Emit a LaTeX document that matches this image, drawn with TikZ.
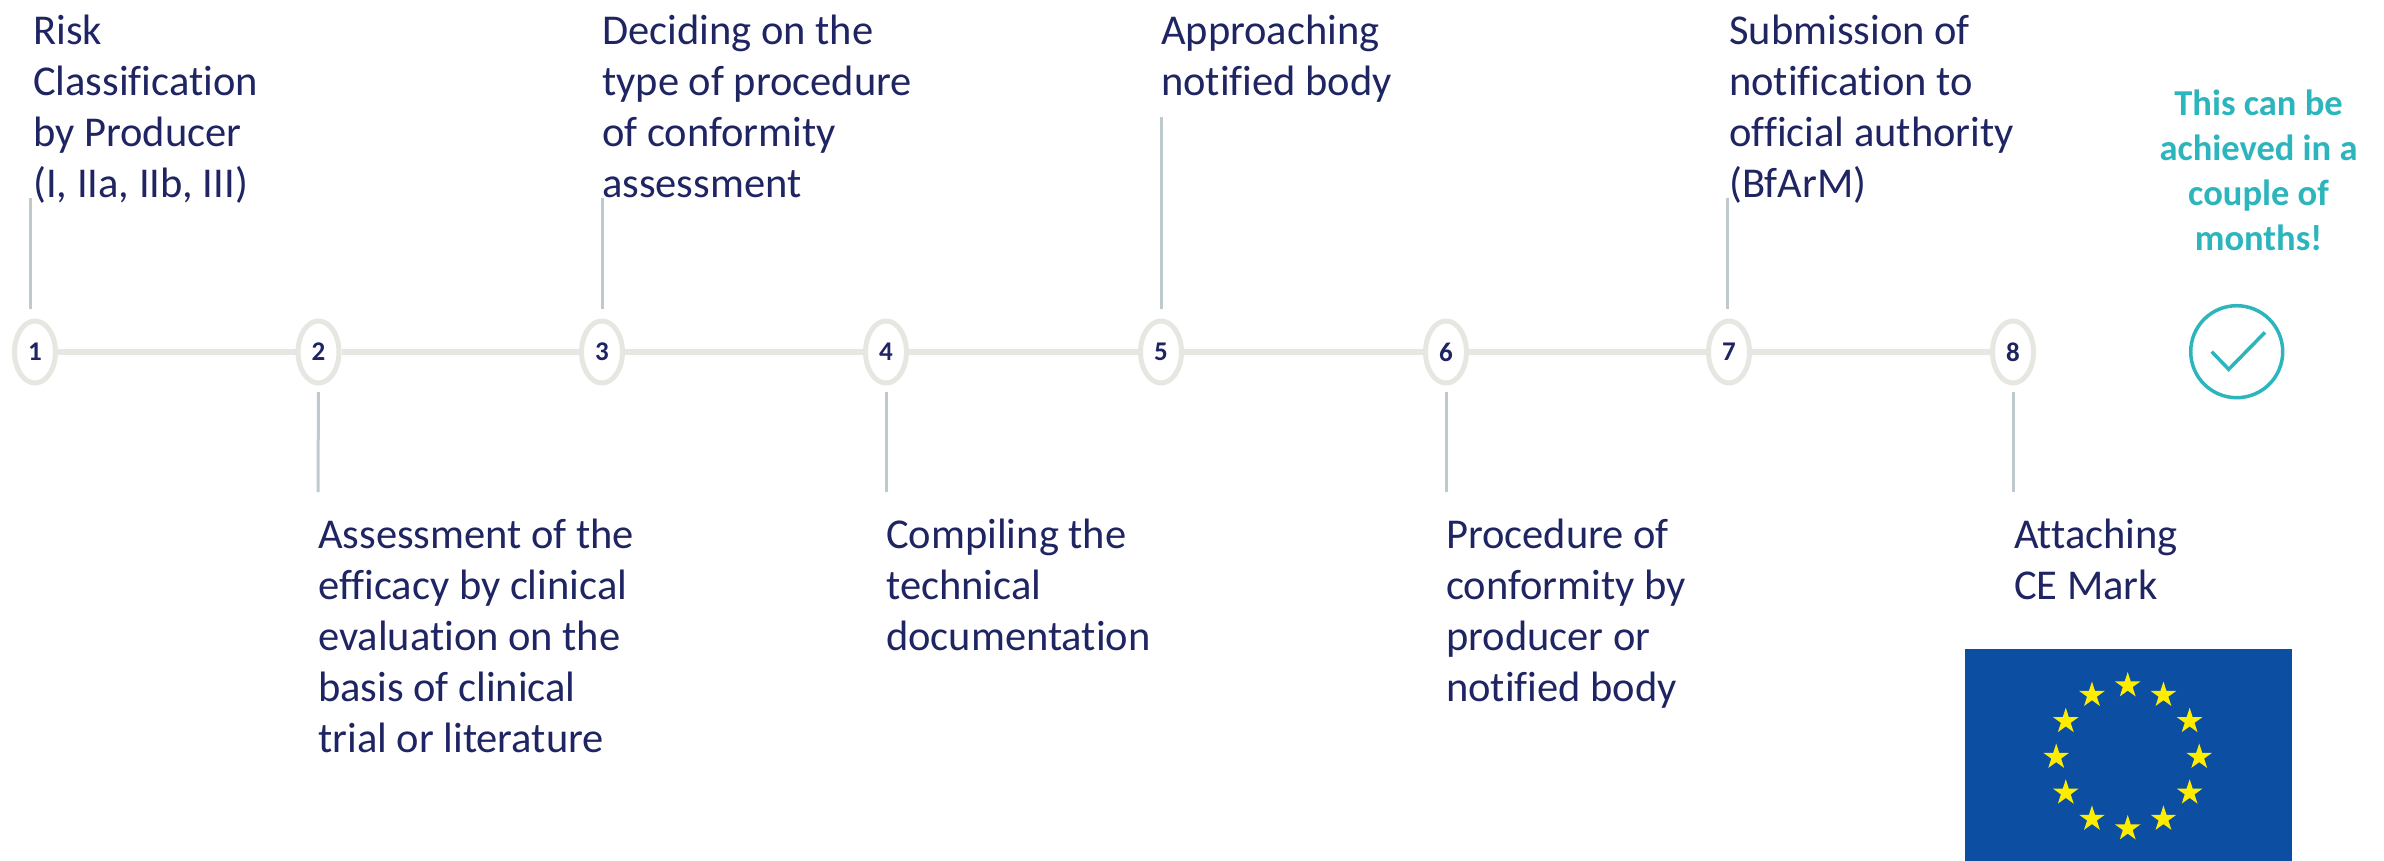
\documentclass[tikz,border=0pt]{standalone}
\usepackage{fontspec}
\setmainfont[Ligatures=CommonOff]{Carlito}
\usetikzlibrary{shapes.geometric}
\definecolor{navy}{HTML}{1F2462}
\definecolor{railc}{HTML}{E6E7E0}
\definecolor{stemc}{HTML}{BFCACE}
\definecolor{teal}{HTML}{2CB5BC}
\definecolor{flagblue}{HTML}{0B4EA2}
\definecolor{staryellow}{HTML}{FFED00}
\tikzset{
  stepdot/.style={ellipse,draw=railc,line width=5pt,fill=white,minimum width=41pt,minimum height=62pt,inner sep=0pt,text=navy,font=\fontsize{27}{27}\selectfont\bfseries},
  rail/.style={draw=railc,line width=5.5pt},
  stem/.style={draw=stemc,line width=3pt},
  steplabel/.style={anchor=north west,inner sep=0pt,align=left,text=navy,font=\fontsize{42.5}{51}\selectfont},
  note/.style={anchor=north,inner sep=0pt,align=center,text=teal,font=\fontsize{36.5}{45}\selectfont\bfseries},
  eustar/.style={star,star points=5,star point ratio=2.618,fill=staryellow,minimum size=27pt,inner sep=0pt,draw=none}
}
\begin{document}
\begin{tikzpicture}[x=1pt,y=-1pt]
\useasboundingbox (0,0) rectangle (2384,861);
% steps
\node[stepdot] (c1) at (35,352) {1};
\node[stepdot] (c2) at (318.5,352) {2};
\node[stepdot] (c3) at (602,352) {3};
\node[stepdot] (c4) at (886,352) {4};
\node[stepdot] (c5) at (1161,352) {5};
\node[stepdot] (c6) at (1446,352) {6};
\node[stepdot] (c7) at (1729,352) {7};
\node[stepdot] (c8) at (2013,352) {8};
\foreach \a/\b in {1/2,2/3,3/4,4/5,5/6,6/7,7/8}{
  \draw[rail] (c\a) -- (c\b);
}
% stem free ends
\coordinate (e1a) at (30.5,198); \coordinate (e1b) at (30.5,309);
\coordinate (e2) at (318,492);
\coordinate (e3a) at (602,198); \coordinate (e3b) at (602,309);
\coordinate (e4) at (886,492);
\coordinate (e5a) at (1161,117); \coordinate (e5b) at (1161,309);
\coordinate (e6) at (1446,492);
\coordinate (e7a) at (1727,198); \coordinate (e7b) at (1727,309);
\coordinate (e8) at (2013,492);
\draw[stem] (e1a) -- (e1b);
\draw[stem] (e3a) -- (e3b);
\draw[stem] (e5a) -- (e5b);
\draw[stem] (e7a) -- (e7b);
\draw[stem,shorten <=6.5pt] (c2.south) -- (e2);
\draw[stem,shorten <=6.5pt] (c4.south) -- (e4);
\draw[stem,shorten <=6.5pt] (c6.south) -- (e6);
\draw[stem,shorten <=6.5pt] (c8.south) -- (e8);
% labels
\node[steplabel] (t1) at (33,15) {Risk\\Classification\\by Producer\\(I, IIa, IIb, III)};
\node[steplabel] (t3) at (602,15) {Deciding on the\\type of procedure\\of conformity\\assessment};
\node[steplabel] (t5) at (1161,15) {Approaching\\notified body};
\node[steplabel] (t7) at (1729,15) {Submission of\\notification to\\official authority\\(BfArM)};
\node[steplabel] (t2) at (318,519) {Assessment of the\\efficacy by clinical\\evaluation on the\\basis of clinical\\trial or literature};
\node[steplabel] (t4) at (886,519) {Compiling the\\technical\\documentation};
\node[steplabel] (t6) at (1446,519) {Procedure of\\conformity by\\producer or\\notified body};
\node[steplabel] (t8) at (2014,519) {Attaching\\CE Mark};
% note
\node[note] (n) at (2258.5,90) {This can be\\achieved in a\\couple of\\months!};
% check mark
\node[circle,draw=teal,line width=3.5pt,minimum size=92pt,inner sep=0pt] (ok) at (2236.7,351.7) {};
\draw[teal,line width=3.5pt] (2211.7,351.7) -- (2228.7,369.3) -- (2265,332.3);
% flag
\fill[flagblue] (1965,649) rectangle (2291.5,861);
\foreach \i in {1,...,12}{
  \node[eustar] (s\i) at ({2127.7+71.5*cos(30*\i)},{757+71.5*sin(30*\i)}) {};
}
\end{tikzpicture}
\end{document}
